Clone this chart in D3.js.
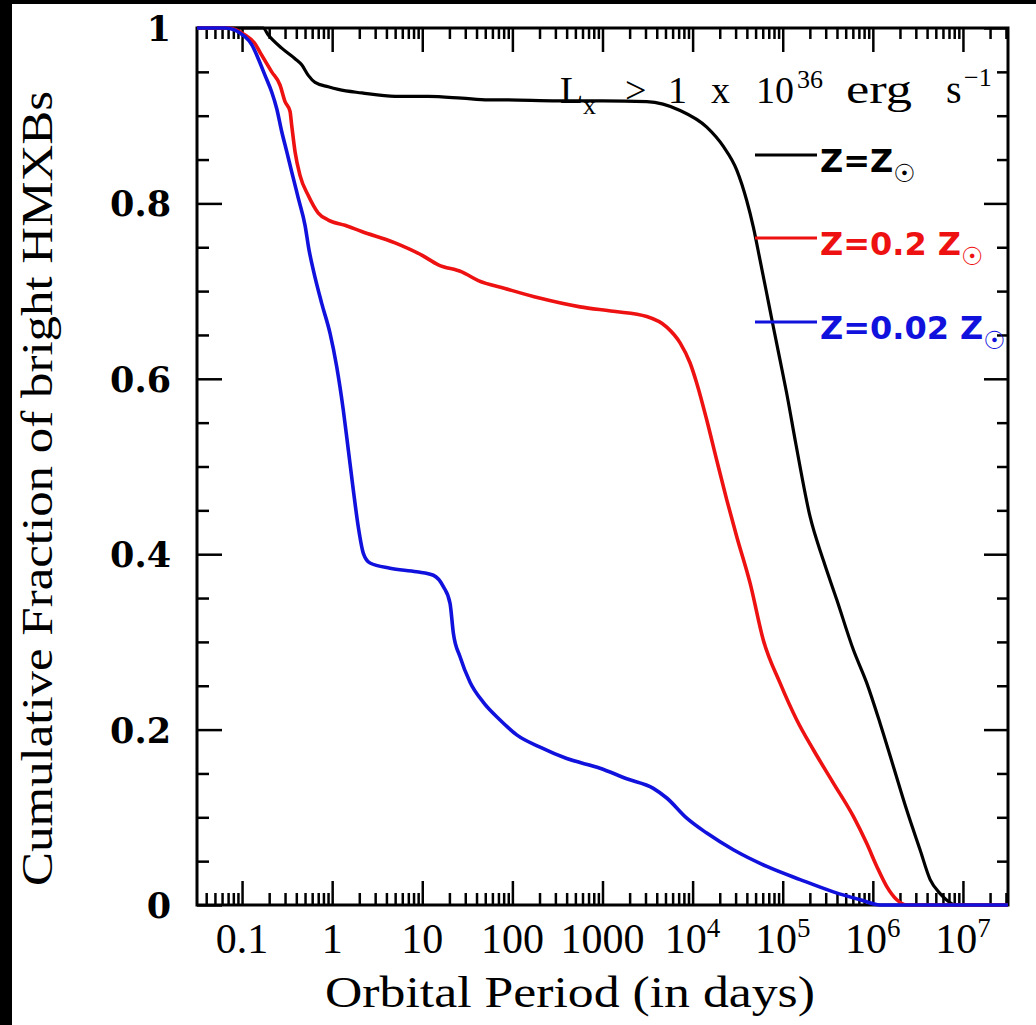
<!DOCTYPE html>
<html><head><meta charset="utf-8">
<script src="https://cdn.jsdelivr.net/npm/d3@7"></script>
<style>html,body{margin:0;padding:0;background:#000;} svg{display:block;}</style>
</head><body>
<script>
// ---- data (log10 of orbital period in days, cumulative fraction) ----
const blackLogP = [-1.5,-0.767,-0.709,-0.56,-0.412,-0.338,-0.265,-0.19,-0.043,0.068,0.328,0.698,1.067,1.438,1.733,1.922,2.5,3.0,3.491,3.861,4.157,4.341,4.49,4.601,4.674,4.749,4.823,4.896,4.971,5.045,5.147,5.303,5.451,5.6,5.784,5.933,6.081,6.228,6.377,6.524,6.636,6.747,6.839,6.913,7.5];
const blackFrac = [1,1,0.992,0.977,0.965,0.958,0.946,0.938,0.933,0.93,0.926,0.922,0.922,0.92,0.918,0.918,0.917,0.917,0.916,0.906,0.887,0.865,0.838,0.803,0.773,0.735,0.697,0.659,0.621,0.583,0.525,0.443,0.393,0.348,0.291,0.253,0.207,0.158,0.108,0.063,0.029,0.013,0.004,0,0];
const redLogP = [-1.5,-1.156,-0.967,-0.856,-0.782,-0.671,-0.579,-0.523,-0.468,-0.449,-0.412,-0.357,-0.265,-0.154,-0.043,0.143,0.328,0.698,0.994,1.178,1.438,1.622,1.918,2.3,2.751,3.12,3.491,3.713,3.861,3.972,4.046,4.157,4.268,4.379,4.49,4.638,4.785,4.971,5.156,5.34,5.562,5.784,5.933,6.044,6.155,6.266,6.377,7.5];
const redFrac = [1,1,0.992,0.982,0.969,0.95,0.935,0.916,0.905,0.889,0.859,0.832,0.809,0.789,0.781,0.775,0.768,0.755,0.741,0.73,0.722,0.712,0.703,0.692,0.682,0.677,0.671,0.659,0.641,0.618,0.595,0.553,0.507,0.462,0.42,0.367,0.302,0.253,0.211,0.177,0.139,0.101,0.07,0.044,0.021,0.006,0,0];
const blueLogP = [-1.5,-1.189,-0.967,-0.893,-0.82,-0.745,-0.671,-0.615,-0.56,-0.504,-0.449,-0.376,-0.301,-0.257,-0.209,-0.116,-0.024,0.05,0.124,0.179,0.235,0.29,0.346,0.42,0.642,0.938,1.123,1.234,1.308,1.345,1.419,1.53,1.678,1.863,2.048,2.307,2.603,2.973,3.269,3.564,3.713,3.935,4.157,4.452,4.823,5.193,5.562,5.859,6.081,7.5];
const blueFrac = [1,1,0.99,0.981,0.965,0.946,0.927,0.908,0.882,0.859,0.836,0.806,0.775,0.747,0.724,0.686,0.652,0.614,0.564,0.519,0.473,0.431,0.401,0.39,0.384,0.38,0.376,0.363,0.344,0.31,0.283,0.254,0.231,0.211,0.194,0.18,0.167,0.156,0.144,0.133,0.122,0.099,0.082,0.063,0.044,0.029,0.015,0.006,0,0];

const seriesNames = ["Z=Z", "Z=0.2 Z", "Z=0.02 Z"];
const seriesColors = ["#000000", "#ee1111", "#1111dd"];

const xMajorTicks = [0.1, 1, 10, 100, 1000, 1e4, 1e5, 1e6, 1e7];
const xTickBase = ["0.1", "1", "10", "100", "1000", "10", "10", "10", "10"];
const xTickExp = ["", "", "", "", "", "4", "5", "6", "7"];
const yMajorTicks = [0, 0.2, 0.4, 0.6, 0.8, 1];
const yTickLabels = ["0", "0.2", "0.4", "0.6", "0.8", "1"];
const yMinorTicks = [0.05,0.1,0.15,0.25,0.3,0.35,0.45,0.5,0.55,0.65,0.7,0.75,0.85,0.9,0.95];

// ---- layout ----
const W = 1036, H = 1025;
const X0 = 197, X1 = 1008, Y0 = 28, Y1 = 905;

const svg = d3.select("body").append("svg").attr("width", W).attr("height", H);
svg.append("rect").attr("width", W).attr("height", H).attr("fill", "#000");
svg.append("rect").attr("x", 12).attr("y", 4).attr("width", W - 12).attr("height", H - 4).attr("fill", "#fff");

const x = d3.scaleLog().domain([Math.pow(10, -1.5), Math.pow(10, 7.5)]).range([X0, X1]);
const y = d3.scaleLinear().domain([0, 1]).range([Y1, Y0]);

const xMinorTicks = [];
for (let d = -2; d <= 7; d++) for (let k = 2; k <= 9; k++) {
  const v = k * Math.pow(10, d);
  if (v > x.domain()[0] && v < x.domain()[1]) xMinorTicks.push(v);
}

function addAxis(gen, tr) {
  svg.append("g").attr("transform", tr).call(gen.tickFormat(""))
    .call(g => g.select(".domain").remove())
    .call(g => g.selectAll("text").remove())
    .call(g => g.selectAll("line").attr("stroke", "#000").attr("stroke-width", 2.5));
}
addAxis(d3.axisBottom(x).tickValues(xMajorTicks).tickSize(-24), `translate(0,${Y1})`);
addAxis(d3.axisBottom(x).tickValues(xMinorTicks).tickSize(-12), `translate(0,${Y1})`);
addAxis(d3.axisTop(x).tickValues(xMajorTicks).tickSize(-24), `translate(0,${Y0})`);
addAxis(d3.axisTop(x).tickValues(xMinorTicks).tickSize(-11), `translate(0,${Y0})`);
addAxis(d3.axisLeft(y).tickValues(yMajorTicks).tickSize(-25), `translate(${X0},0)`);
addAxis(d3.axisLeft(y).tickValues(yMinorTicks).tickSize(-12), `translate(${X0},0)`);
addAxis(d3.axisRight(y).tickValues(yMajorTicks).tickSize(-24), `translate(${X1},0)`);
addAxis(d3.axisRight(y).tickValues(yMinorTicks).tickSize(-11), `translate(${X1},0)`);

svg.append("rect").attr("x", X0).attr("y", Y0).attr("width", X1 - X0).attr("height", Y1 - Y0)
  .attr("fill", "none").attr("stroke", "#000").attr("stroke-width", 3);

// ---- curves ----
svg.append("clipPath").attr("id", "clip").append("rect")
  .attr("x", X0 - 2).attr("y", Y0 - 2).attr("width", X1 - X0 + 4).attr("height", Y1 - Y0 + 4);
const line = d3.line().x(d => x(Math.pow(10, d[0]))).y(d => y(d[1])).curve(d3.curveMonotoneX);
const series = [
  d3.zip(blackLogP, blackFrac),
  d3.zip(redLogP, redFrac),
  d3.zip(blueLogP, blueFrac)
];
series.forEach((s, i) => {
  svg.append("path").attr("d", line(s)).attr("fill", "none")
    .attr("stroke", seriesColors[i]).attr("stroke-width", i === 0 ? 3.2 : 3.6)
    .attr("stroke-linejoin", "round").attr("clip-path", "url(#clip)");
});

// ---- tick labels ----
const xl = svg.append("g").attr("font-family", "Liberation Serif, serif").attr("font-size", 42).attr("fill", "#000");
xMajorTicks.forEach((v, i) => {
  const t = xl.append("text").attr("x", x(v)).attr("y", 953).attr("text-anchor", "middle");
  t.append("tspan").text(xTickBase[i]);
  if (xTickExp[i]) t.append("tspan").attr("font-size", 27).attr("dy", -16).text(xTickExp[i]);
});
const yl = svg.append("g").attr("font-family", "DejaVu Serif, serif").attr("font-weight", "bold").attr("font-size", 35).attr("fill", "#000");
yMajorTicks.forEach((v, i) => {
  yl.append("text").attr("x", 171).attr("y", y(v) + 13).attr("text-anchor", "end").text(yTickLabels[i]);
});

// ---- axis titles ----
svg.append("text").attr("x", 325).attr("y", 1007).attr("font-family", "Liberation Serif, serif")
  .attr("font-size", 44).attr("textLength", 490).attr("lengthAdjust", "spacingAndGlyphs")
  .text("Orbital Period (in days)");
svg.append("text").attr("transform", "translate(52,886) rotate(-90)").attr("font-family", "Liberation Serif, serif")
  .attr("font-size", 44).attr("textLength", 795).attr("lengthAdjust", "spacingAndGlyphs")
  .text("Cumulative Fraction of bright HMXBs");

// ---- annotation ----
const annG = svg.append("g").attr("font-family", "Liberation Serif, serif").attr("font-size", 38).attr("fill", "#000");
function ann(txt, ax, ay, size, len) {
  const t = annG.append("text").attr("x", ax).attr("y", ay).text(txt);
  if (size) t.attr("font-size", size);
  if (len) t.attr("textLength", len).attr("lengthAdjust", "spacingAndGlyphs");
}
ann("L", 560, 103);
ann("x", 583, 114, 26);
ann(">", 625, 103);
ann("1", 668, 103);
ann("x", 711, 103);
ann("10", 756, 103);
ann("36", 797, 88, 26);
ann("erg", 846, 103, 40, 66);
ann("s", 946, 103, 40);
ann("\u22121", 964, 86, 26);

// ---- legend ----
const legY = [155, 238, 322];
seriesNames.forEach((name, i) => {
  svg.append("line").attr("x1", 755).attr("x2", 817).attr("y1", legY[i]).attr("y2", legY[i])
    .attr("stroke", seriesColors[i]).attr("stroke-width", 3);
  const t = svg.append("text").attr("x", 820).attr("y", legY[i] + 17)
    .attr("font-family", "DejaVu Sans, sans-serif").attr("font-weight", "bold").attr("font-size", 32)
    .attr("fill", seriesColors[i]);
  t.append("tspan").text(name);
  t.append("tspan").attr("font-size", 25).attr("dy", 10).attr("font-weight", "bold").text("\u2609");
});
</script>
</body></html>
